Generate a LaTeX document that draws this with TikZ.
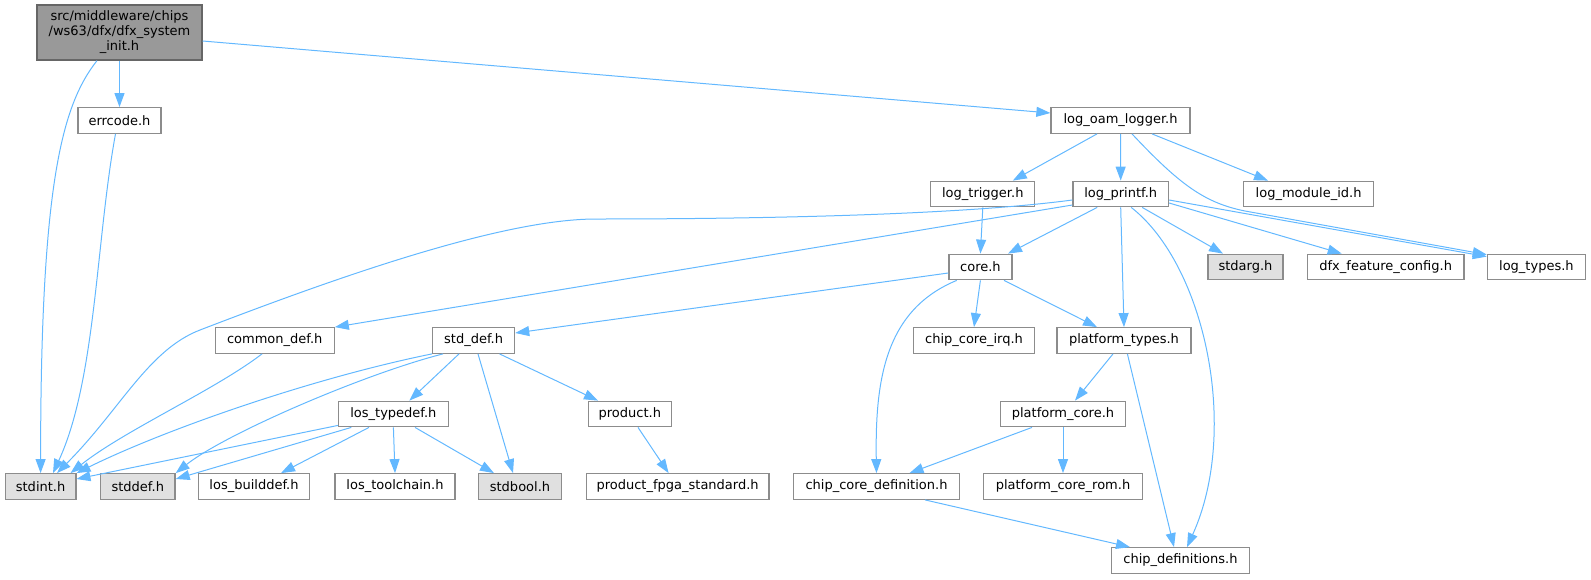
\documentclass[tikz,border=0pt]{standalone}
\usepackage{fontspec}
\setmainfont{DejaVu Sans}
\usepackage{tikz}
\usetikzlibrary{arrows.meta}
\definecolor{edgeblue}{HTML}{63B8FF}
\definecolor{boxgray}{HTML}{8C8C8C}
\definecolor{sysfill}{HTML}{E0E0E0}
\definecolor{rootfill}{HTML}{999999}
\definecolor{rootline}{HTML}{666666}

\begin{document}
\begin{tikzpicture}[x=1pt,y=-1pt,->,>={Triangle[length=14pt,width=10pt]},
			line width=1pt,draw=edgeblue,
			file/.style={draw=boxgray,fill=white,text=black,line width=1.3pt,
				minimum height=25.5pt,inner sep=0pt,font=\fontsize{13}{15}\selectfont},
			sysfile/.style={file,fill=sysfill},
			rootfile/.style={file,fill=rootfill,draw=rootline,align=center}]
			
			\useasboundingbox (0,0) rectangle (1591,579);
			
			\node[rootfile,minimum width=165pt,minimum height=55pt] (init) at (119.5,32.5) {src/middleware/chips\\/ws63/dfx/dfx\_system\\\_init.h};
			\node[file,minimum width=83pt]     (errcode)    at (119.5,120.5)  {errcode.h};
			\node[file,minimum width=139pt]    (oam)        at (1120.5,120.5) {log\_oam\_logger.h};
			\node[file,minimum width=104pt]    (trigger)    at (982.8,194)    {log\_trigger.h};
			\node[file,minimum width=95.5pt]   (printf)     at (1120.7,194)   {log\_printf.h};
			\node[file,minimum width=130pt]    (modid)      at (1308.6,194)   {log\_module\_id.h};
			\node[file,minimum width=63pt]     (core)       at (980.4,267)    {core.h};
			\node[sysfile,minimum width=75pt]  (stdarg)     at (1245.5,267)   {stdarg.h};
			\node[file,minimum width=156.5pt]  (featcfg)    at (1385.7,267)   {dfx\_feature\_config.h};
			\node[file,minimum width=98pt]     (logtypes)   at (1536.4,267)   {log\_types.h};
			\node[file,minimum width=119pt]    (commondef)  at (274.7,340.5)  {common\_def.h};
			\node[file,minimum width=82pt]     (stddefh)    at (473.6,340.5)  {std\_def.h};
			\node[file,minimum width=120.5pt]  (irq)        at (974,340.5)    {chip\_core\_irq.h};
			\node[file,minimum width=134pt]    (ptypes)     at (1124,340.5)   {platform\_types.h};
			\node[file,minimum width=109.5pt]  (lostypedef) at (393.4,414)    {los\_typedef.h};
			\node[file,minimum width=83pt]     (product)    at (629.8,414)    {product.h};
			\node[file,minimum width=125.5pt]  (pcore)      at (1063,414)     {platform\_core.h};
			\node[sysfile,minimum width=70.5pt](stdint)     at (40.6,486.5)   {stdint.h};
			\node[sysfile,minimum width=74.5pt](stddef)     at (137.8,486.5)  {stddef.h};
			\node[file,minimum width=111.5pt]  (builddef)   at (254,486.5)    {los\_builddef.h};
			\node[file,minimum width=120pt]    (toolchain)  at (395,486.5)    {los\_toolchain.h};
			\node[sysfile,minimum width=83pt]  (stdbool)    at (520,486.5)    {stdbool.h};
			\node[file,minimum width=182.5pt]  (fpga)       at (677.6,486.5)  {product\_fpga\_standard.h};
			\node[file,minimum width=165.5pt]  (ccdef)      at (876.5,486.5)  {chip\_core\_definition.h};
			\node[file,minimum width=159pt]    (pcorerom)   at (1063,486.5)   {platform\_core\_rom.h};
			\node[file,minimum width=138pt]    (chipdefs)   at (1180.5,560.5) {chip\_definitions.h};
			
			% straight includes
			\path (init.south) edge (errcode.north)
			([yshift=-8.5pt]init.east) edge ([yshift=7.5pt]oam.west)
			([xshift=-23.5pt]oam.south) edge ([xshift=30pt]trigger.north)
			(oam.south) edge (printf.north)
			([xshift=31.5pt]oam.south) edge ([xshift=-40.6pt]modid.north)
			(trigger.south) edge (core.north)
			([yshift=-11pt]printf.west) edge (commondef.north east)
			([xshift=-23.5pt]printf.south) edge ([xshift=27.6pt]core.north)
			(printf.south) edge (ptypes.north)
			([xshift=21.5pt]printf.south) edge ([xshift=-22.5pt]stdarg.north)
			([yshift=-9pt]printf.east) edge ([xshift=-44pt]featcfg.north)
			([yshift=-6pt]printf.east) edge ([yshift=-3pt]logtypes.north west)
			([yshift=-6pt]core.west) edge ([yshift=7.5pt]stddefh.east)
			(core.south) edge (irq.north)
			([xshift=23.6pt]core.south) edge ([xshift=-27pt]ptypes.north)
			([xshift=-14.6pt]stddefh.south) edge ([xshift=16pt]lostypedef.north)
			([xshift=4.4pt]stddefh.south) edge ([xshift=-7pt]stdbool.north)
			([xshift=-15.7pt]stddefh.south east) edge ([xshift=-31.8pt]product.north)
			([yshift=2pt]lostypedef.south west) edge ([yshift=7.5pt]stdint.east)
			([xshift=13.3pt]lostypedef.south west) edge ([yshift=7.5pt]stddef.east)
			([xshift=-24.4pt]lostypedef.south) edge ([xshift=27pt]builddef.north)
			(lostypedef.south) edge (toolchain.north)
			([xshift=21.6pt]lostypedef.south) edge ([xshift=-26pt]stdbool.north)
			([xshift=8.2pt]product.south) edge ([xshift=-9pt]fpga.north)
			([xshift=-11pt]ptypes.south) edge ([xshift=12pt]pcore.north)
			([xshift=3.4pt]ptypes.south) edge ([xshift=-6.5pt]chipdefs.north)
			([xshift=-31pt]pcore.south) edge ([xshift=33pt]ccdef.north)
			(pcore.south) edge (pcorerom.north)
			([xshift=48.5pt]ccdef.south) edge ([xshift=-50.5pt]chipdefs.north);
			
			% curved includes
			\draw ([xshift=-22.5pt]init.south) .. controls (62,105) and (40.6,184) .. (stdint.north);
			\draw ([xshift=-4pt]errcode.south) .. controls (96,240) and (96,380) .. ([xshift=12.4pt]stdint.north);
			\draw ([xshift=11.5pt]oam.south) .. controls (1180,185) and (1205,203) .. (1245,211) -- ([yshift=-1pt]logtypes.north west);
			\draw ([yshift=-6pt]printf.west) .. controls (960,215) and (760,219) .. (596,219)
			.. controls (500,219) and (330,280) .. (200,330)
			.. controls (148,350) and (120,410) .. ([xshift=16.4pt]stdint.north);
			\draw ([xshift=10.5pt]printf.south) .. controls (1205,265) and (1240,430) .. ([xshift=6.5pt]chipdefs.north);
			\draw ([xshift=-23.7pt]core.south) .. controls (885,310) and (875,380) .. (ccdef.north);
			\draw ([xshift=-12.7pt]commondef.south) .. controls (215,390) and (125,430) .. ([xshift=-6pt]stdint.north east);
			\draw (stddefh.south west) .. controls (313,378) and (166,429) .. (stdint.north east);
			\draw ([xshift=11pt]stddefh.south west) .. controls (364,374) and (225,434) .. (stddef.north east);
\end{tikzpicture}
\end{document}
